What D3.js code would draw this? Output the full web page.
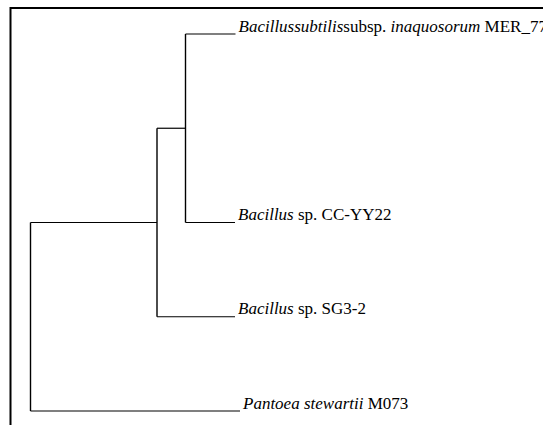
<!DOCTYPE html>
<html>
<head>
<meta charset="utf-8">
<script src="https://cdn.jsdelivr.net/npm/d3@7"></script>
<style>
  html, body { margin: 0; padding: 0; background: #fff; }
  svg { display: block; }
  text { font-family: "Liberation Serif", "Times New Roman", Times, serif; font-size: 17px; fill: #000; }
</style>
</head>
<body>
<svg id="chart" width="543" height="425"></svg>
<script>
// ---- data ----
// tree topology: node names and parents
const nodeNames   = ["root", "A", "B", "subtilis", "CCYY22", "SG32", "pantoea"];
const nodeParents = [null, "root", "A", "B", "B", "A", "root"];
// branch lengths (from parent)
const branchLengths = [0, 0.1265, 0.0285, 0.050, 0.0495, 0.078, 0.2095];
// leaf row order (row slots, top to bottom)
const leafRows = { subtilis: 0, CCYY22: 2, SG32: 3, pantoea: 4 };
// leaf labels as [text, italic] segments
const leafLabels = {
  subtilis: [["Bacillussubtilis", true], ["subsp. ", false], ["inaquosorum", true], [" MER_77", false]],
  CCYY22:   [["Bacillus", true], [" sp. CC-YY22", false]],
  SG32:     [["Bacillus", true], [" sp. SG3-2", false]],
  pantoea:  [["Pantoea stewartii", true], [" M073", false]]
};

// ---- build hierarchy ----
const table = nodeNames.map((n, i) => ({ name: n, parent: nodeParents[i], len: branchLengths[i] }));
const root = d3.stratify().id(d => d.name).parentId(d => d.parent)(table);
root.eachBefore(d => { d.dist = d.parent ? d.parent.dist + d.data.len : 0; });

const svg = d3.select("#chart");

// frame
svg.append("rect")
  .attr("x", 10.5).attr("y", 8)
  .attr("width", 600).attr("height", 500)
  .attr("fill", "none").attr("stroke", "#000").attr("stroke-width", 2);

const maxDist = d3.max(root.leaves(), d => d.dist);
const x = d3.scaleLinear().domain([0, maxDist]).range([30.5, 240]);
const y = d3.scaleLinear().domain([0, 4]).range([34, 411]);

// y positions: leaves by row, internal nodes at midpoint of children
root.eachAfter(d => {
  if (!d.children) d.yy = y(leafRows[d.id]);
  else d.yy = (d3.min(d.children, c => c.yy) + d3.max(d.children, c => c.yy)) / 2;
});

const g = svg.append("g");

// vertical connectors
root.descendants().filter(d => d.children).forEach(d => {
  g.append("line")
    .attr("x1", x(d.dist)).attr("x2", x(d.dist))
    .attr("y1", d3.min(d.children, c => c.yy)).attr("y2", d3.max(d.children, c => c.yy))
    .attr("stroke", "#000").attr("stroke-width", 1.4);
});
// horizontal branches
root.descendants().filter(d => d.parent).forEach(d => {
  g.append("line")
    .attr("x1", x(d.parent.dist)).attr("x2", x(d.dist))
    .attr("y1", d.yy).attr("y2", d.yy)
    .attr("stroke", "#000").attr("stroke-width", 1.2);
});

// labels
root.leaves().forEach(d => {
  const t = g.append("text")
    .attr("x", x(d.dist) + 3)
    .attr("y", d.yy - 2.5);
  leafLabels[d.id].forEach(([s, it]) => {
    t.append("tspan").attr("font-style", it ? "italic" : "normal").text(s);
  });
});
</script>
</body>
</html>
